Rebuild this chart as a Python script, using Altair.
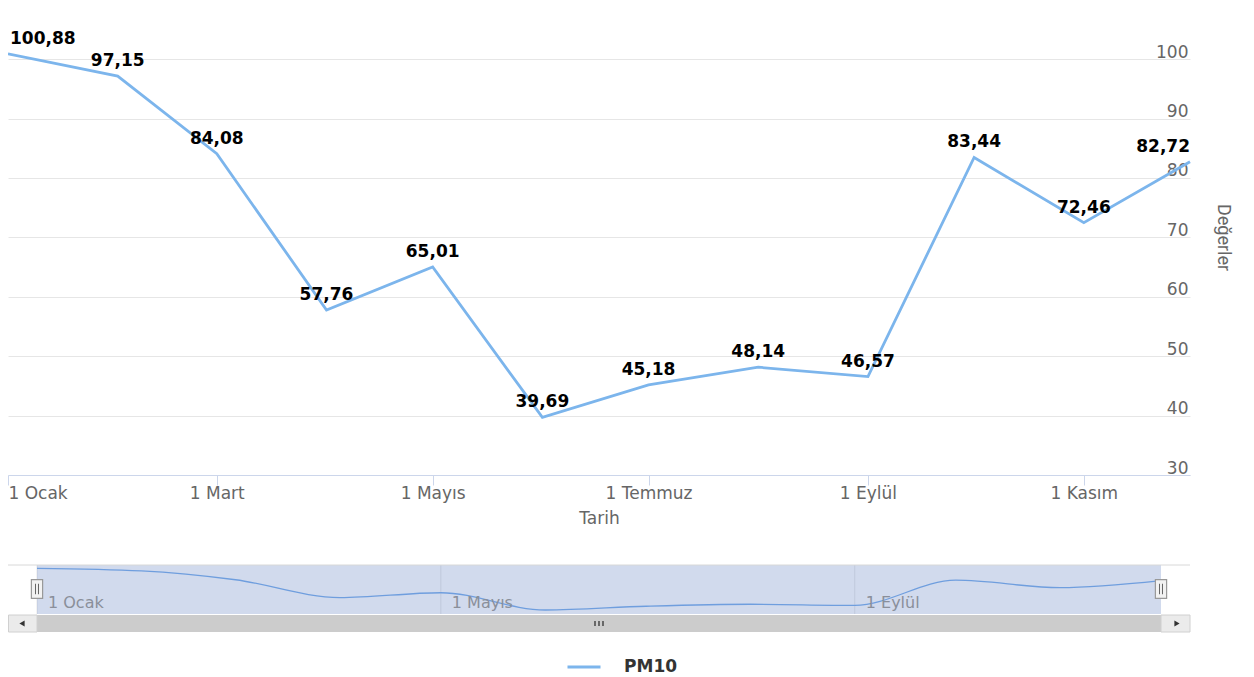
import altair as alt
import pandas as pd

# ---- data ----
aylar = ["2023-01-01", "2023-02-01", "2023-03-01", "2023-04-01", "2023-05-01", "2023-06-01",
         "2023-07-01", "2023-08-01", "2023-09-01", "2023-10-01", "2023-11-01", "2023-12-01"]
pm10 = [100.88, 97.15, 84.08, 57.76, 65.01, 39.69, 45.18, 48.14, 46.57, 83.44, 72.46, 82.72]
seri_adi = "PM10"
x_tikler = ["2023-01-01", "2023-03-01", "2023-05-01", "2023-07-01", "2023-09-01", "2023-11-01"]
nav_tikler = ["2023-01-01", "2023-05-01", "2023-09-01"]
y_tikler = [30, 40, 50, 60, 70, 80, 90, 100]
ay_adlari = ["Ocak", "Şubat", "Mart", "Nisan", "Mayıs", "Haziran",
             "Temmuz", "Ağustos", "Eylül", "Ekim", "Kasım", "Aralık"]

df = pd.DataFrame({"tarih": aylar, "deger": pm10, "seri": [seri_adi] * len(aylar)})
df_nav_tik = pd.DataFrame({"tarih": nav_tikler})
df_aralik = pd.DataFrame({"bas": [aylar[0]], "son": [aylar[-1]]})
df_uc = pd.DataFrame({"tarih": [aylar[0], aylar[-1]]})
bos = pd.DataFrame({"a": [0]})


def dt(s):
    y, m, d = (int(v) for v in s.split("-"))
    return alt.DateTime(year=y, month=m, date=d, utc=True)


ay_dizi = "[" + ",".join("'" + a + "'" for a in ay_adlari) + "]"
etiket_expr = "'1 ' + " + ay_dizi + "[utcmonth(datum.value)]"

FONT = "DejaVu Sans"
BLUE = "#7cb5ec"

x_main = alt.X(
    "tarih:T",
    scale=alt.Scale(type="utc", domain=[dt(aylar[0]), dt(aylar[-1])], nice=False),
    axis=alt.Axis(
        values=[dt(v) for v in x_tikler], labelExpr=etiket_expr, grid=False,
        domainColor="#ccd6eb", tickColor="#ccd6eb", tickSize=10, labelFlush=True,
        labelPadding=8, labelBaseline="middle", labelColor="#666666", labelFont=FONT,
        labelFontSize=17, title="Tarih", titleFont=FONT, titleFontSize=17,
        titleFontWeight="normal", titleColor="#666666", titleY=43, titleBaseline="middle",
    ),
)
y_main = alt.Y(
    "deger:Q",
    scale=alt.Scale(domain=[30, 108.6], nice=False, zero=False),
    axis=alt.Axis(
        orient="right", values=y_tikler, grid=True, gridColor="#e6e6e6", ticks=False,
        tickSize=0, domain=False, labelAlign="right", labelPadding=-2,
        labelBaseline="alphabetic", labelOffset=-2, labelColor="#666666", labelFont=FONT,
        labelFontSize=17, title="Değerler", titleAngle=90, titleX=32, titleY=229,
        titleBaseline="middle", titleAlign="center", titleColor="#666666",
        titleFont="Roboto", titleFontSize=18, titleFontWeight="normal",
    ),
)

cizgi = alt.Chart(df).mark_line(strokeWidth=2.8).encode(
    x=x_main, y=y_main,
    color=alt.Color("seri:N", scale=alt.Scale(range=[BLUE]), legend=alt.Legend(
        title=None, orient="none", legendX=558, legendY=641, symbolType="stroke",
        symbolSize=1089, symbolStrokeWidth=3, labelFont=FONT, labelFontSize=17,
        labelFontWeight="bold", labelColor="#333333", labelOffset=22)),
)

lbl_calc = "replace(format(datum.deger, '.2f'), '.', ',')"
etiket_temel = alt.Chart(df).transform_window(sira="row_number()").transform_calculate(lbl=lbl_calc)
n = len(aylar)


def etiket(filtre, align, dx):
    return etiket_temel.transform_filter(filtre).mark_text(
        align=align, baseline="alphabetic", dy=-10, dx=dx, font=FONT, fontSize=17,
        fontWeight="bold", color="#000000").encode(x="tarih:T", y="deger:Q", text="lbl:N")


etiketler = alt.layer(
    etiket("datum.sira == 1", "left", 2),
    etiket(f"datum.sira > 1 && datum.sira < {n}", "center", 0),
    etiket(f"datum.sira == {n}", "right", 0),
)

ana = alt.layer(cizgi, etiketler)

# ---- navigator + scrollbar ----
nav_x_scale = alt.Scale(type="utc", domain=[dt(aylar[0]), dt(aylar[-1])], range=[29, 1153], nice=False)
nx = alt.X("tarih:T", scale=nav_x_scale, axis=None)

izgara = alt.Chart(df_nav_tik).mark_rule(color="#e6e6e6", strokeWidth=1).encode(
    x=nx, y=alt.value(557), y2=alt.value(606))
maske = alt.Chart(df_aralik).mark_rect(fill="#6685c2", fillOpacity=0.3).encode(
    x=alt.X("bas:T", scale=nav_x_scale, axis=None), x2="son:T",
    y=alt.value(557), y2=alt.value(606))
nav_cizgi = alt.Chart(df).mark_line(interpolate="monotone", strokeWidth=1.3, color="#6f9ede").encode(
    x=nx,
    y=alt.Y("deger:Q", scale=alt.Scale(domain=[min(pm10), max(pm10)], range=[602, 560.3],
                                       zero=False, nice=False), axis=None))
nav_etiket = alt.Chart(df_nav_tik).transform_calculate(
    lbl="'1 ' + " + ay_dizi + "[utcmonth(datum.tarih)]").mark_text(
    align="left", baseline="alphabetic", dx=11, font=FONT, fontSize=16, color="#8a8f9a").encode(
    x=nx, y=alt.value(600), text="lbl:N")
ust_cizgi = alt.Chart(bos).mark_rule(color="#d8d8d8").encode(
    x=alt.value(0), x2=alt.value(1182), y=alt.value(557))
tutamak = alt.Chart(df_uc).mark_point(
    shape="M-0.3,-0.5L0.3,-0.5L0.3,0.5L-0.3,0.5Z", size=1400, filled=True, fill="#f2f2f2",
    stroke="#999999", strokeWidth=1.2, opacity=1).encode(x=nx, y=alt.value(581))
tutamak_cizgi = alt.Chart(df_uc).mark_point(
    shape="M-0.08,-0.28L-0.08,0.28M0.08,-0.28L0.08,0.28", size=1400, filled=False,
    stroke="#666666", strokeWidth=1, opacity=1).encode(x=nx, y=alt.value(581))

ray = alt.Chart(bos).mark_rect(fill="#f2f2f2").encode(
    x=alt.value(0), x2=alt.value(1182), y=alt.value(607), y2=alt.value(624))
bar = alt.Chart(df_aralik).mark_rect(fill="#cccccc").encode(
    x=alt.X("bas:T", scale=nav_x_scale, axis=None), x2="son:T",
    y=alt.value(607), y2=alt.value(624))
sol_btn = alt.Chart(bos).mark_rect(fill="#ebebeb", stroke="#d0d0d0").encode(
    x=alt.value(0.5), x2=alt.value(29), y=alt.value(607), y2=alt.value(624))
sag_btn = alt.Chart(bos).mark_rect(fill="#ebebeb", stroke="#d0d0d0").encode(
    x=alt.value(1153), x2=alt.value(1182), y=alt.value(607), y2=alt.value(624))
sol_ok = alt.Chart(bos).mark_point(shape="triangle-left", size=36, filled=True, fill="#333333",
                                   opacity=1).encode(x=alt.value(14), y=alt.value(615.5))
sag_ok = alt.Chart(bos).mark_point(shape="triangle-right", size=36, filled=True, fill="#333333",
                                   opacity=1).encode(x=alt.value(1169), y=alt.value(615.5))
grip = alt.Chart(bos).mark_point(
    shape="M-0.4,-0.25L-0.4,0.25M0,-0.25L0,0.25M0.4,-0.25L0.4,0.25", size=400, filled=False,
    stroke="#333333", strokeWidth=1.3, opacity=1).encode(x=alt.value(591), y=alt.value(615.5))

nav = alt.layer(izgara, maske, nav_cizgi, nav_etiket, ust_cizgi, tutamak, tutamak_cizgi,
                ray, bar, sol_btn, sag_btn, sol_ok, sag_ok, grip)

chart = alt.layer(ana, nav).resolve_scale(x="independent", y="independent").properties(
    width=1182, height=467,
    padding={"left": 0, "top": 0, "right": 56, "bottom": 200},
    autosize=alt.AutoSizeParams(type="none"),
    background="white",
).configure_view(stroke=None)

chart.save("out.html", embed_options={"renderer": "svg", "actions": False})
